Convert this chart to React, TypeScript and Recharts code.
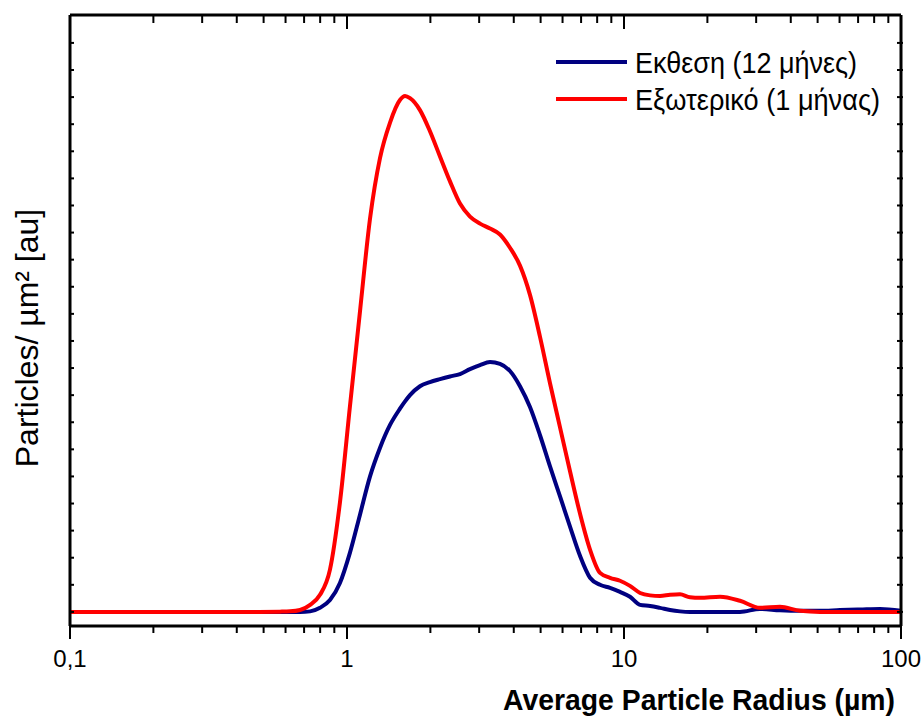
import { Label, Legend, Line, LineChart, XAxis, YAxis } from "recharts";

const FONT = '"Liberation Sans", Arial, sans-serif';
const BLUE = "#000080";
const RED = "#ff0000";

// average particle radius (µm), shared by both curves
const radius = [
  0.1, 0.25, 0.45, 0.573, 0.623, 0.677, 0.736, 0.799, 0.868, 0.943, 1.025, 1.114,
  1.211, 1.315, 1.43, 1.553, 1.62, 1.688, 1.834, 1.993, 2.166, 2.354, 2.558, 2.78,
  3.021, 3.283, 3.567, 3.876, 4.212, 4.577, 4.975, 5.406, 5.875, 6.384, 6.937, 7.539,
  8.192, 8.903, 9.674, 10.51, 11.43, 12.42, 13.49, 14.66, 15.93, 17.31, 18.81, 22.22,
  26.23, 30.97, 36.57, 43.19, 51.0, 60.2, 71.1, 84.0, 100,
];

// Εκθεση (12 μήνες)
const exposure12 = [
  0, 0, 0, 0, 0, 0, 0.02, 0.15, 0.44, 1.07, 2.19, 3.59,
  5.0, 6.05, 6.9, 7.5, 7.77, 8.0, 8.33, 8.48, 8.59, 8.69, 8.78, 8.96,
  9.11, 9.22, 9.15, 8.89, 8.33, 7.56, 6.52, 5.37, 4.26, 3.15, 2.07, 1.26,
  1.0, 0.89, 0.74, 0.56, 0.26, 0.22, 0.15, 0.07, 0.02, 0, 0, 0,
  0, 0.11, 0.06, 0.04, 0.04, 0.07, 0.09, 0.11, 0.04,
];

// Εξωτερικό (1 μήνας)
const exterior1 = [
  0, 0, 0, 0.01, 0.02, 0.07, 0.26, 0.63, 1.56, 4.04, 7.6, 11.09,
  14.52, 16.74, 18.06, 18.89, 19.04, 18.96, 18.52, 17.74, 16.81, 15.89, 15.07, 14.59,
  14.33, 14.15, 13.93, 13.44, 12.78, 11.7, 10.15, 8.44, 6.81, 5.19, 3.63, 2.3,
  1.44, 1.26, 1.15, 0.96, 0.7, 0.61, 0.59, 0.63, 0.65, 0.54, 0.52, 0.56,
  0.41, 0.15, 0.19, 0.04, 0, 0, 0, 0, 0,
];

const seriesNames = ["Εκθεση (12 μήνες)", "Εξωτερικό (1 μήνας)"];
const legendWidths = [222, 245];

const majorTicks = [0.1, 1, 10, 100];
const majorLabels = ["0,1", "1", "10", "100"];
const innerMajorTicks = [1, 10];
const minorTicks = [
  0.2, 0.3, 0.4, 0.5, 0.6, 0.7, 0.8, 0.9, 2, 3, 4, 5, 6, 7, 8, 9, 20, 30, 40, 50, 60,
  70, 80, 90,
];
const yTicks = Array.from({ length: 22 }, (_, i) => i);

const Y_MIN = -0.52;
const Y_MAX = 22.03;

const rows = radius.map((r, i) => ({ r, exposure: exposure12[i], exterior: exterior1[i] }));

// anchor points for the frame ticks the axes cannot draw themselves
// (minor log ticks, the inward top ticks, the right-edge ticks)
const bottomTickRows = minorTicks.map((r) => ({ r, edge: Y_MIN, major: false }));
const topTickRows = [...minorTicks, ...innerMajorTicks].map((r) => ({
  r,
  edge: Y_MAX,
  major: innerMajorTicks.includes(r),
}));
const rightTickRows = yTicks.map((t) => ({ r: 100, edge: t, major: false }));

const axisLine = { stroke: "#000", strokeWidth: 3 };
const tickLine = { stroke: "#000", strokeWidth: 2 };
const NoLabel = () => <g />;

const BottomStub = ({ cx, cy }: any) => (
  <line x1={cx} x2={cx} y1={cy} y2={cy + 7} stroke="#000" strokeWidth={2} />
);
const TopStub = ({ cx, cy, payload }: any) => (
  <line x1={cx} x2={cx} y1={cy} y2={cy + (payload?.major ? 14 : 8)} stroke="#000" strokeWidth={2} />
);
const RightStub = ({ cx, cy }: any) => (
  <line x1={cx - 4} x2={cx + 2} y1={cy} y2={cy} stroke="#000" strokeWidth={2} />
);

const logX = {
  dataKey: "r",
  type: "number" as const,
  scale: "log" as const,
  domain: [0.1, 100],
};
const linY = {
  type: "number" as const,
  domain: [Y_MIN, Y_MAX],
};
const stubLine = {
  dataKey: "edge",
  stroke: "none",
  activeDot: false,
  legendType: "none" as const,
  isAnimationActive: false,
};

function LegendBox({ payload }: { payload?: { value: string; color: string }[] }) {
  const items = (payload ?? []).filter((p) => seriesNames.includes(p.value));
  return (
    <svg width={370} height={85} style={{ display: "block" }}>
      {items.map((p, i) => (
        <g key={p.value}>
          <line x1={6} x2={77} y1={22 + i * 37} y2={22 + i * 37} stroke={p.color} strokeWidth={4} />
          <text
            x={85}
            y={33 + i * 37}
            fontFamily={FONT}
            fontSize={29}
            fill="#000"
            textLength={legendWidths[i]}
            lengthAdjust="spacingAndGlyphs"
          >
            {p.value}
          </text>
        </g>
      ))}
    </svg>
  );
}

export default function App() {
  return (
    <div style={{ position: "absolute", left: 0, top: 0, width: 921, height: 716, background: "#fff" }}>
      <LineChart
        width={921}
        height={716}
        data={rows}
        margin={{ top: 15, right: 20, bottom: 30, left: 70 }}
      >
        <XAxis
          {...logX}
          ticks={majorTicks}
          interval={0}
          height={60}
          tickSize={13}
          tickMargin={11}
          axisLine={axisLine}
          tickLine={tickLine}
          tickFormatter={(v: number) => majorLabels[majorTicks.indexOf(v)] ?? String(v)}
          tick={{ fill: "#000", fontSize: 24, fontFamily: FONT }}
        >
          <Label
            content={() => (
              <text
                x={895}
                y={710}
                textAnchor="end"
                fontFamily={FONT}
                fontWeight="bold"
                fontSize={30}
                textLength={392}
                lengthAdjust="spacingAndGlyphs"
                fill="#000"
              >
                Average Particle Radius (µm)
              </text>
            )}
          />
        </XAxis>
        <XAxis
          {...logX}
          xAxisId="top"
          orientation="top"
          mirror
          height={1}
          axisLine={axisLine}
          tickLine={false}
          tick={false}
        />
        <YAxis
          {...linY}
          ticks={yTicks}
          interval={0}
          mirror
          width={1}
          tickSize={4}
          axisLine={axisLine}
          tickLine={tickLine}
          tick={NoLabel}
        >
          <Label
            content={() => (
              <text
                x={38}
                y={338}
                transform="rotate(-90 38 338)"
                textAnchor="middle"
                fontFamily={FONT}
                fontSize={32}
                fill="#000"
              >
                Particles/ µm² [au]
              </text>
            )}
          />
        </YAxis>
        <YAxis
          {...linY}
          yAxisId="right"
          orientation="right"
          mirror
          width={1}
          axisLine={axisLine}
          tickLine={false}
          tick={false}
        />
        <Legend
          layout="vertical"
          align="center"
          verticalAlign="middle"
          wrapperStyle={{ left: 550, top: 40, width: 370 }}
          content={(props: any) => <LegendBox payload={props.payload} />}
        />
        <Line {...stubLine} data={bottomTickRows} dot={BottomStub} />
        <Line {...stubLine} data={topTickRows} dot={TopStub} />
        <Line {...stubLine} data={rightTickRows} dot={RightStub} />
        <Line
          type="monotone"
          dataKey="exposure"
          name={seriesNames[0]}
          stroke={BLUE}
          strokeWidth={4}
          dot={false}
          isAnimationActive={false}
        />
        <Line
          type="monotone"
          dataKey="exterior"
          name={seriesNames[1]}
          stroke={RED}
          strokeWidth={4}
          dot={false}
          isAnimationActive={false}
        />
      </LineChart>
    </div>
  );
}
